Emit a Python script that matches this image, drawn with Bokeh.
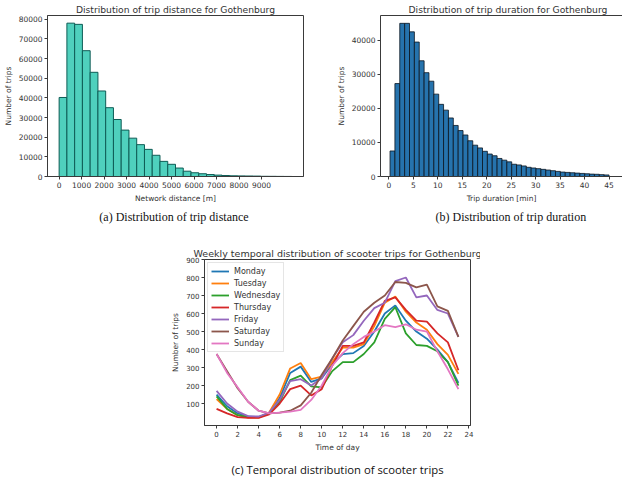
from bokeh.plotting import figure
from bokeh.layouts import column, row
from bokeh.models import Title, Legend, LegendItem, Spacer, FixedTicker, LinearAxis
from bokeh.embed import file_html
from bokeh.resources import INLINE

# ---------------- data ----------------
dist_range = (0, 10350)          # metres, 30 bins
dist_counts = [40200, 78000, 77400, 64000, 53000, 43500, 35000, 29000, 23600, 19500,
               16200, 13800, 10800, 7700, 6200, 4300, 2700, 1900, 1400, 1000,
               700, 500, 350, 300, 250, 200, 100, 80, 50, 30]
dist_xticks = [0, 1000, 2000, 3000, 4000, 5000, 6000, 7000, 8000, 9000]
dist_yticks = [0, 10000, 20000, 30000, 40000, 50000, 60000, 70000, 80000]

dur_range = (0.25, 45.0)         # minutes, 45 bins
dur_counts = [7500, 27300, 45000, 45000, 42500, 39500, 34000, 30500, 28000, 24200,
              21200, 19500, 17200, 15000, 13500, 12200, 10500, 9200, 8400, 7400,
              6600, 6100, 5300, 4800, 4300, 3600, 3400, 3100, 2700, 2500,
              2300, 2100, 1900, 1700, 1500, 1300, 1200, 1100, 1000, 900,
              800, 700, 650, 550, 450]
dur_xticks = [0, 5, 10, 15, 20, 25, 30, 35, 40, 45, 50]
dur_yticks = [0, 10000, 20000, 30000, 40000]

hours = list(range(24))
days = ["Monday", "Tuesday", "Wednesday", "Thursday", "Friday", "Saturday", "Sunday"]
monday = [150, 85, 45, 28, 25, 45, 130, 270, 305, 220, 240, 320, 375, 380, 420, 500, 600, 645, 560, 500, 460, 400, 330, 215]
tuesday = [125, 70, 35, 22, 22, 50, 150, 295, 325, 235, 250, 330, 410, 410, 430, 530, 660, 695, 610, 550, 510, 430, 370, 265]
wednesday = [140, 70, 35, 25, 25, 45, 110, 230, 255, 195, 190, 280, 330, 330, 375, 440, 570, 635, 490, 425, 420, 390, 330, 200]
thursday = [70, 45, 25, 20, 20, 40, 100, 180, 200, 145, 180, 310, 420, 420, 440, 550, 670, 690, 620, 560, 555, 490, 440, 285]
friday = [170, 100, 55, 30, 28, 50, 120, 225, 235, 200, 240, 350, 440, 480, 560, 630, 660, 780, 800, 690, 700, 620, 600, 470]
saturday = [375, 280, 185, 110, 60, 45, 50, 60, 90, 160, 260, 350, 450, 530, 610, 660, 700, 775, 770, 745, 760, 640, 615, 470]
sunday = [375, 270, 190, 110, 60, 45, 50, 55, 65, 120, 200, 310, 380, 430, 470, 500, 535, 525, 540, 510, 500, 390, 290, 180]
series = [monday, tuesday, wednesday, thursday, friday, saturday, sunday]
hour_xticks = list(range(0, 25, 2))
trip_yticks = [100, 200, 300, 400, 500, 600, 700, 800, 900]

colors = ["#1f77b4", "#ff7f0e", "#2ca02c", "#d62728", "#9467bd", "#8c564b", "#e377c2"]

FONT = "DejaVu Sans"
AX = "#3a3a3a"


def style(p, tick_size="7.5px", label_size="7.5px", title_size="9.2px"):
    for ax in p.axis:
        ax.major_label_text_font = FONT
        ax.major_label_text_font_size = tick_size
        ax.major_label_text_color = "#333333"
        ax.axis_label_text_font = FONT
        ax.axis_label_text_font_size = label_size
        ax.axis_label_text_font_style = "normal"
        ax.axis_label_text_color = "#333333"
        ax.major_tick_in = 0
        ax.major_tick_out = 3
        ax.minor_tick_line_color = None
        ax.axis_line_color = AX
        ax.major_tick_line_color = AX
        ax.major_label_standoff = 2
        ax.axis_label_standoff = 3
    p.grid.visible = False
    p.outline_line_color = AX
    p.title.text_font = FONT
    p.title.text_font_size = title_size
    p.title.text_font_style = "normal"
    p.title.text_color = "#333333"
    p.title.align = "center"
    p.title.standoff = 2
    p.background_fill_color = "white"
    p.border_fill_color = "white"


def edges(lo, hi, n):
    w = (hi - lo) / n
    return [lo + i * w for i in range(n)], [lo + (i + 1) * w for i in range(n)]


# ---------------- (a) distance histogram ----------------
p1 = figure(frame_width=256, frame_height=161, x_range=(-517.5, 10867.5), y_range=(0, 81900),
            output_backend="svg", toolbar_location=None,
            min_border_left=45, min_border_right=19, min_border_top=10, min_border_bottom=57,
            title="Distribution of trip distance for Gothenburg")
l1, r1 = edges(dist_range[0], dist_range[1], len(dist_counts))
p1.quad(left=l1, right=r1, bottom=0, top=dist_counts, fill_color="#4fd0bd",
        line_color="#0e5c55", line_width=1)
p1.xaxis.ticker = FixedTicker(ticks=dist_xticks)
p1.yaxis.ticker = FixedTicker(ticks=dist_yticks)
p1.xaxis.axis_label = "Network distance [m]"
p1.yaxis.axis_label = "Number of trips"
style(p1)
p1.add_layout(Title(text="(a)  Distribution of trip distance", align="center",
                    text_font="Liberation Serif", text_font_size="12px",
                    text_font_style="normal", text_color="#111111", standoff=5), "below")

# ---------------- (b) duration histogram ----------------
p2 = figure(frame_width=242, frame_height=161, x_range=(-1.7, 47.75), y_range=(0, 47300),
            output_backend="svg", toolbar_location=None,
            min_border_left=58, min_border_right=0, min_border_top=11, min_border_bottom=56,
            title="Distribution of trip duration for Gothenburg")
l2, r2 = edges(dur_range[0], dur_range[1], len(dur_counts))
p2.quad(left=l2, right=r2, bottom=0, top=dur_counts, fill_color="#2673ad",
        line_color="#0a1420", line_width=0.8)
p2.xaxis.ticker = FixedTicker(ticks=dur_xticks)
p2.yaxis.ticker = FixedTicker(ticks=dur_yticks)
p2.xaxis.axis_label = "Trip duration [min]"
p2.yaxis.axis_label = "Number of trips"
style(p2)
p2.outline_line_color = None
p2.add_layout(LinearAxis(ticker=FixedTicker(ticks=[]), axis_line_color=AX,
                         major_tick_line_color=None, minor_tick_line_color=None,
                         major_label_text_font_size="0px"), "above")
p2.title.align = "left"
p2.title.offset = 28
p2.add_layout(Title(text="(b) Distribution of trip duration", align="left", offset=55,
                    text_font="Liberation Serif", text_font_size="12px",
                    text_font_style="normal", text_color="#111111", standoff=5), "below")

# ---------------- (c) weekly temporal distribution ----------------
p3 = figure(frame_width=266, frame_height=166, x_range=(-1.15, 24.15), y_range=(-22, 900),
            output_backend="svg", toolbar_location=None,
            min_border_left=44, min_border_right=10, min_border_top=26, min_border_bottom=52,
            title="Weekly temporal distribution of scooter trips for Gothenburg")
items = []
for name, vals, c in zip(days, series, colors):
    r = p3.line(hours, vals, line_color=c, line_width=1.8)
    items.append(LegendItem(label=name, renderers=[r]))
p3.xaxis.ticker = FixedTicker(ticks=hour_xticks)
p3.yaxis.ticker = FixedTicker(ticks=trip_yticks)
p3.xaxis.axis_label = "Time of day"
p3.yaxis.axis_label = "Number of trips"
style(p3, tick_size="7px", label_size="7.5px", title_size="9.5px")
legend = Legend(items=items, location="top_left", margin=3, padding=3, spacing=2,
                label_height=10, glyph_height=10, glyph_width=18, label_standoff=5,
                label_text_font=FONT, label_text_font_size="8px", label_text_color="#333333",
                border_line_color="#cccccc", background_fill_alpha=0.85)
p3.add_layout(legend)
p3.add_layout(Title(text="(c) Temporal distribution of scooter trips", align="center",
                    text_font="Open Sans", text_font_size="11.3px",
                    text_font_style="normal", text_color="#111111", standoff=11), "below")

layout = column(row(p1, p2), row(Spacer(width=160, height=10), p3))

open("out.html", "w").write(file_html(layout, INLINE))
